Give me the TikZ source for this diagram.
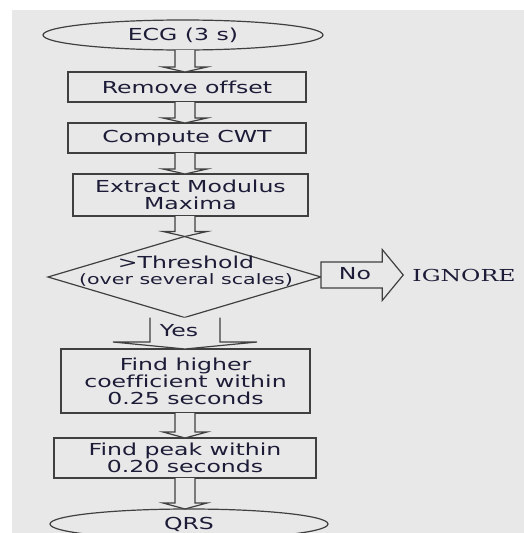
\documentclass[tikz,border=0pt]{standalone}
\usepackage{fontspec}
\setmainfont[FakeStretch=1.43,Ligatures=CommonOff]{DejaVu Sans}
\newfontfamily\serifx[FakeStretch=1.43]{DejaVu Serif}
\usetikzlibrary{shapes.geometric,calc}
\definecolor{bg}{HTML}{E8E8E8}
\definecolor{ln}{HTML}{404040}
\definecolor{tx}{HTML}{1C1C38}
\newcommand\downarrowblk[5]{%
  \draw[blk] let \p1=(#1), \p2=(#2), \p3=(col) in
    (\x3-#3pt,\y1) -- (\x3-#3pt,\y2+#5pt) -- (\x3-#4pt,\y2+#5pt) -- (\x3,\y2)
    -- (\x3+#4pt,\y2+#5pt) -- (\x3+#3pt,\y2+#5pt) -- (\x3+#3pt,\y1);}
\begin{document}
\begin{tikzpicture}[x=1pt,y=-1pt,
  every node/.style={text=tx,font=\fontsize{16.5}{17}\selectfont},
  box/.style={draw=ln,line width=1.2pt,inner sep=0pt,outer sep=0pt,align=center},
  oval/.style={ellipse,draw=ln,line width=1.2pt,inner sep=0pt,outer sep=0pt},
  blk/.style={draw=ln,line width=1.2pt,fill=bg,line join=miter}]
\useasboundingbox (0,0) rectangle (524,533);
\fill[bg] (12,10) rectangle (524,533);
\coordinate (col) at (185,0);
\node[oval,minimum width=280,minimum height=30] (ecg) at (183,35) {ECG (3 s)};
\node[box,minimum width=238,minimum height=30] (rem) at (187,87) {Remove offset};
\node[box,minimum width=238,minimum height=30] (cwt) at (187,138) {Compute CWT};
\node[box,minimum width=235,minimum height=42] (ext) at (190.5,195) {Extract Modulus\\Maxima};
\node[diamond,draw=ln,line width=1.2pt,inner sep=0pt,outer sep=0pt,minimum width=273,minimum height=81] (dec) at (184.5,277) {};
\node[align=center,inner sep=0pt] (dect) at (186,271) {>Threshold\\[-1pt]{\fontsize{14.4}{15}\selectfont (over several scales)}};
\node[box,minimum width=249,minimum height=64] (hig) at (185.5,381) {Find higher\\coefficient within\\0.25 seconds};
\node[box,minimum width=262,minimum height=40] (pk) at (185,458) {Find peak within\\0.20 seconds};
\node[oval,minimum width=278,minimum height=30] (qrs) at (189,524) {QRS};
\node[inner sep=0pt,font=\serifx\fontsize{16.5}{17}\selectfont] (ign) at (464,275) {IGNORE};
\downarrowblk{ecg.south}{rem.north}{10}{22}{5}
\downarrowblk{rem.south}{cwt.north}{10}{22}{5}
\downarrowblk{cwt.south}{ext.north}{10}{22}{5}
\downarrowblk{ext.south}{dec.north}{10}{22}{5}
\downarrowblk{dec.south}{hig.north}{35}{72}{7}
\downarrowblk{hig.south}{pk.north}{10}{22}{6}
\downarrowblk{pk.south}{qrs.north}{10}{22}{6}
\node (yes) at (179,331) {Yes};
\coordinate (tip) at ($(ign.west)+(-9,0)$);
\draw[blk] let \p1=(dec.east), \p2=(tip) in
  (\x1,\y2+13pt) -- (\x2-21pt,\y2+13pt) -- (\x2-21pt,\y2+25.5pt) -- (\x2,\y2)
  -- (\x2-21pt,\y2-25.5pt) -- (\x2-21pt,\y2-13pt) -- (\x1,\y2-13pt) -- cycle;
\node (no) at (355,274) {No};
\end{tikzpicture}
\end{document}
